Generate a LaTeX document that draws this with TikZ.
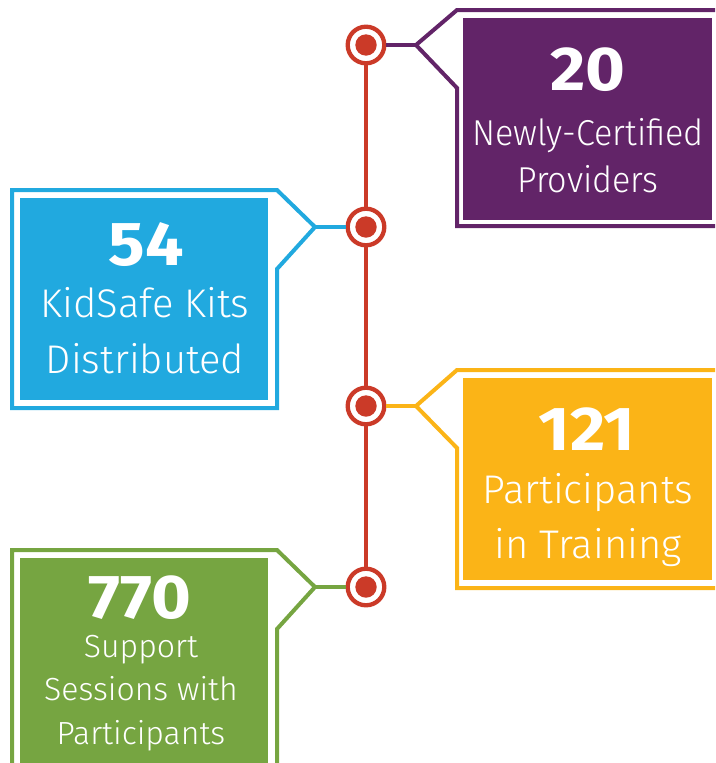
\documentclass[tikz,border=0pt]{standalone}
\usepackage{fontspec}
\setmainfont{Fira Sans}
\newfontfamily\lightf{Fira Sans Light}
\newfontfamily\lightn{Fira Sans Light}[FakeStretch=0.95]
\newfontfamily\boldw{Fira Sans Bold}[FakeStretch=1.1]
\definecolor{purp}{HTML}{622468}
\definecolor{bluec}{HTML}{21A9DF}
\definecolor{orac}{HTML}{FBB417}
\definecolor{grnc}{HTML}{76A541}
\definecolor{redc}{HTML}{CB3A28}
\begin{document}
\begin{tikzpicture}[x=1pt,y=-1pt,
  outl/.style={line width=4pt, line join=miter},
  ring/.style={circle, draw=redc, line width=4.3pt, fill=white, minimum size=36.6pt, inner sep=0pt,
    path picture={\fill[redc] (path picture bounding box.center) circle (10.7pt);}},
  num/.style={text=white, anchor=base, inner sep=0pt, font=\boldw\fontsize{62}{62}\selectfont},
  lbl/.style={text=white, anchor=base, inner sep=0pt, font=\lightf\fontsize{40}{40}\selectfont},
  lbls/.style={text=white, anchor=base, inner sep=0pt, font=\lightn\fontsize{36}{36}\selectfont},
  lblg/.style={text=white, anchor=base, inner sep=0pt, font=\lightf\fontsize{32}{32}\selectfont}]
\useasboundingbox (0,0) rectangle (715,763);
\clip (0,0) rectangle (715,763);

% tab shapes
\coordinate (t1) at (416,45);
\coordinate (t2) at (315,227);
\coordinate (t3) at (416,406);
\coordinate (t4) at (315,587);

\draw[purp, outl] (t1) -- (457,10) -- (722,10) -- (722,226) -- (457,226) -- (457,88) -- cycle;
\fill[purp] (463,18) rectangle (712,220);

\draw[bluec, outl] (t2) -- (277,190) -- (12,190) -- (12,408) -- (277,408) -- (277,269) -- cycle;
\fill[bluec] (20,198) rectangle (268,400);

\draw[orac, outl] (t3) -- (457,370) -- (722,370) -- (722,588) -- (457,588) -- (457,448) -- cycle;
\fill[orac] (463,378) rectangle (712,580);

\draw[grnc, outl] (t4) -- (277,550) -- (12,550) -- (12,790) -- (277,790) -- (277,629) -- cycle;
\fill[grnc] (20,558) rectangle (268,790);

% timeline
\draw[redc, line width=4pt] (366,45) -- (366,587);
\node[ring] (c1) at (366,45) {};
\node[ring] (c2) at (366,227) {};
\node[ring] (c3) at (366,406) {};
\node[ring] (c4) at (366,587) {};

\draw[purp, outl] (c1) -- (t1);
\draw[bluec, outl] (c2) -- (t2);
\draw[orac, outl] (c3) -- (t3);
\draw[grnc, outl] (c4) -- (t4);

% texts
\node[num] (n1) at (588,90) {20};
\node[lbls] (p1) at (588,145) {Newly-Certified};
\node[lbls] (p2) at (588,192) {Providers};

\node[num] (n2) at (146,265) {54};
\node[lbl] (b1) at (145,317) {KidSafe Kits};
\node[lbl] (b2) at (145,373) {Distributed};

\node[num] (n3) at (587,450) {121};
\node[lbl] (o1) at (588,503) {Participants};
\node[lbl] (o2) at (588,558) {in Training};

\node[num] (n4) at (140,618) {770};
\node[lblg] (g1) at (141,657) {Support};
\node[lblg] (g2) at (141,700) {Sessions with};
\node[lblg] (g3) at (141,744) {Participants};
\end{tikzpicture}
\end{document}
